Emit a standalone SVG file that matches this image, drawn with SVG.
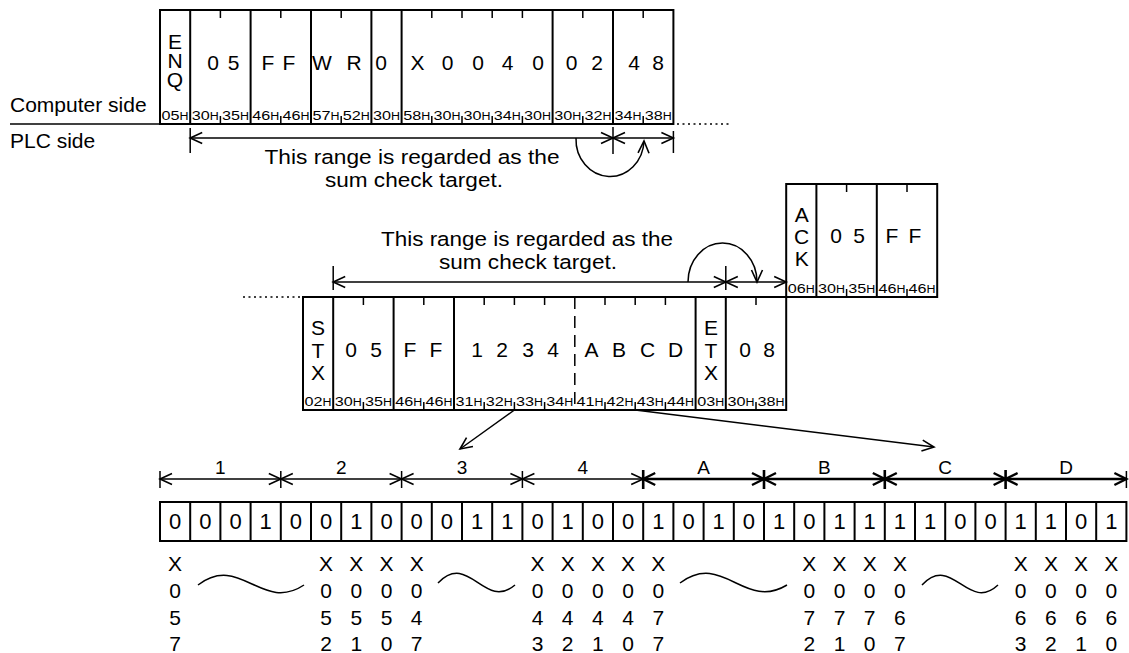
<svg xmlns="http://www.w3.org/2000/svg" width="1129" height="653" viewBox="0 0 1129 653">
<style>
.t{font-family:"Liberation Sans",Arial,sans-serif;fill:#000}
.ch{font-size:21px;text-anchor:middle}
.vt{font-size:21px;writing-mode:vertical-lr;text-orientation:upright;text-anchor:start}
.rg{font-size:20.5px;text-anchor:middle}
.sd{font-size:21px}
.hx{font-size:13px;text-anchor:middle}
.hx tspan{font-size:10px}
.bt{font-size:22px;text-anchor:middle}
.gl{font-size:19px;text-anchor:middle}
.dl{font-size:21px;text-anchor:middle}
.fr{fill:#fff;stroke:#000;stroke-width:2}
.dv{fill:none;stroke:#000;stroke-width:2}
.tk{fill:none;stroke:#000;stroke-width:1.5}
.ln{fill:none;stroke:#000;stroke-width:1.5}
.lb{fill:none;stroke:#000;stroke-width:2.6}
.dot{fill:none;stroke:#000;stroke-width:1.5;stroke-dasharray:2 3.5}
.dash{fill:none;stroke:#000;stroke-width:1.5;stroke-dasharray:12 7}
.arw{marker-start:url(#a);marker-end:url(#a)}
.arb{marker-start:url(#b);marker-end:url(#b)}
</style>
<defs>
<marker id="a" viewBox="-14 -8 16 16" refX="0" refY="0" markerWidth="16" markerHeight="16" markerUnits="userSpaceOnUse" orient="auto-start-reverse" overflow="visible"><path d="M-12,-5.5 L0,0 L-12,5.5" fill="none" stroke="#000" stroke-width="1.6"/></marker>
<marker id="b" viewBox="-14 -8 16 16" refX="0" refY="0" markerWidth="16" markerHeight="16" markerUnits="userSpaceOnUse" orient="auto-start-reverse" overflow="visible"><path d="M-12,-6 L0,0 L-12,6" fill="none" stroke="#000" stroke-width="2.4"/></marker>
</defs>
<rect width="1129" height="653" fill="#fff"/>

<g id="side-labels">
<path class="ln" d="M10,124H160"/>
<path class="dot" d="M677,124H731"/>
<text class="t sd" x="10" y="112">Computer side</text>
<text class="t sd" x="10" y="148">PLC side</text>
</g>

<g id="frame-computer">
<rect class="fr" x="160" y="10" width="513.4" height="114"/>
<path class="dv" d="M190.2,10V124M250.6,10V124M311,10V124M371.4,10V124M401.6,10V124M552.6,10V124M613,10V124"/>
<path class="tk" d="M220.4,10v8M280.8,10v8M341.2,10v8M431.8,10v8M462,10v8M492.2,10v8M522.4,10v8M582.8,10v8M643.2,10v8M220.4,124v-8M280.8,124v-8M341.2,124v-8M431.8,124v-8M462,124v-8M492.2,124v-8M522.4,124v-8M582.8,124v-8M643.2,124v-8"/>
<text class="t vt" x="175" y="30" letter-spacing="-4">ENQ</text>
<text class="t ch" y="70" x="213 233.5 268 289 322 354 381 417.5 447.5 478 507.5 538 571.5 597 634 658">05FFWR0X00400248</text>
<text class="t hx" x="175.1" y="120" textLength="27" lengthAdjust="spacingAndGlyphs">05<tspan>H</tspan></text>
<text class="t hx" x="205.3" y="120" textLength="27" lengthAdjust="spacingAndGlyphs">30<tspan>H</tspan></text>
<text class="t hx" x="235.5" y="120" textLength="27" lengthAdjust="spacingAndGlyphs">35<tspan>H</tspan></text>
<text class="t hx" x="265.7" y="120" textLength="27" lengthAdjust="spacingAndGlyphs">46<tspan>H</tspan></text>
<text class="t hx" x="295.9" y="120" textLength="27" lengthAdjust="spacingAndGlyphs">46<tspan>H</tspan></text>
<text class="t hx" x="326.1" y="120" textLength="27" lengthAdjust="spacingAndGlyphs">57<tspan>H</tspan></text>
<text class="t hx" x="356.3" y="120" textLength="27" lengthAdjust="spacingAndGlyphs">52<tspan>H</tspan></text>
<text class="t hx" x="386.5" y="120" textLength="27" lengthAdjust="spacingAndGlyphs">30<tspan>H</tspan></text>
<text class="t hx" x="416.7" y="120" textLength="27" lengthAdjust="spacingAndGlyphs">58<tspan>H</tspan></text>
<text class="t hx" x="446.9" y="120" textLength="27" lengthAdjust="spacingAndGlyphs">30<tspan>H</tspan></text>
<text class="t hx" x="477.1" y="120" textLength="27" lengthAdjust="spacingAndGlyphs">30<tspan>H</tspan></text>
<text class="t hx" x="507.3" y="120" textLength="27" lengthAdjust="spacingAndGlyphs">34<tspan>H</tspan></text>
<text class="t hx" x="537.5" y="120" textLength="27" lengthAdjust="spacingAndGlyphs">30<tspan>H</tspan></text>
<text class="t hx" x="567.7" y="120" textLength="27" lengthAdjust="spacingAndGlyphs">30<tspan>H</tspan></text>
<text class="t hx" x="597.9" y="120" textLength="27" lengthAdjust="spacingAndGlyphs">32<tspan>H</tspan></text>
<text class="t hx" x="628.1" y="120" textLength="27" lengthAdjust="spacingAndGlyphs">34<tspan>H</tspan></text>
<text class="t hx" x="658.3" y="120" textLength="27" lengthAdjust="spacingAndGlyphs">38<tspan>H</tspan></text>
</g>

<g id="frame-ack">
<rect class="fr" x="786.2" y="184" width="151" height="113"/>
<path class="dv" d="M816.4,184V297M876.8,184V297"/>
<path class="tk" d="M846.6,184v8M907,184v8M846.6,297v-8M907,297v-8"/>
<text class="t vt" x="801.7" y="203" letter-spacing="-1">ACK</text>
<text class="t ch" y="243" x="836 859 892 915">05FF</text>
<text class="t hx" x="801.3" y="293" textLength="27" lengthAdjust="spacingAndGlyphs">06<tspan>H</tspan></text>
<text class="t hx" x="831.5" y="293" textLength="27" lengthAdjust="spacingAndGlyphs">30<tspan>H</tspan></text>
<text class="t hx" x="861.7" y="293" textLength="27" lengthAdjust="spacingAndGlyphs">35<tspan>H</tspan></text>
<text class="t hx" x="891.9" y="293" textLength="27" lengthAdjust="spacingAndGlyphs">46<tspan>H</tspan></text>
<text class="t hx" x="922.1" y="293" textLength="27" lengthAdjust="spacingAndGlyphs">46<tspan>H</tspan></text>
</g>

<g id="frame-plc">
<path class="dot" d="M243,297H302"/>
<rect class="fr" x="303" y="297" width="483.2" height="113"/>
<path class="dv" d="M333.2,297V410M393.6,297V410M454,297V410M695.6,297V410M725.8,297V410"/>
<path class="dash" d="M574.8,297V410"/>
<path class="tk" d="M363.4,297v8M423.8,297v8M484.2,297v8M514.4,297v8M544.6,297v8M605,297v8M635.2,297v8M665.4,297v8M756,297v8M363.4,410v-8M423.8,410v-8M484.2,410v-8M514.4,410v-8M544.6,410v-8M605,410v-8M635.2,410v-8M665.4,410v-8M756,410v-8"/>
<text class="t vt" x="318" y="316" letter-spacing="-0.5">STX</text>
<text class="t vt" x="711" y="316" letter-spacing="-0.5">ETX</text>
<text class="t ch" y="357" x="351 376 410 436 477 502 528 553 591.5 619 647.5 675.5 745 769">05FF1234ABCD08</text>
<text class="t hx" x="318.1" y="406" textLength="27" lengthAdjust="spacingAndGlyphs">02<tspan>H</tspan></text>
<text class="t hx" x="348.3" y="406" textLength="27" lengthAdjust="spacingAndGlyphs">30<tspan>H</tspan></text>
<text class="t hx" x="378.5" y="406" textLength="27" lengthAdjust="spacingAndGlyphs">35<tspan>H</tspan></text>
<text class="t hx" x="408.7" y="406" textLength="27" lengthAdjust="spacingAndGlyphs">46<tspan>H</tspan></text>
<text class="t hx" x="438.9" y="406" textLength="27" lengthAdjust="spacingAndGlyphs">46<tspan>H</tspan></text>
<text class="t hx" x="469.1" y="406" textLength="27" lengthAdjust="spacingAndGlyphs">31<tspan>H</tspan></text>
<text class="t hx" x="499.3" y="406" textLength="27" lengthAdjust="spacingAndGlyphs">32<tspan>H</tspan></text>
<text class="t hx" x="529.5" y="406" textLength="27" lengthAdjust="spacingAndGlyphs">33<tspan>H</tspan></text>
<text class="t hx" x="559.7" y="406" textLength="27" lengthAdjust="spacingAndGlyphs">34<tspan>H</tspan></text>
<text class="t hx" x="589.9" y="406" textLength="27" lengthAdjust="spacingAndGlyphs">41<tspan>H</tspan></text>
<text class="t hx" x="620.1" y="406" textLength="27" lengthAdjust="spacingAndGlyphs">42<tspan>H</tspan></text>
<text class="t hx" x="650.3" y="406" textLength="27" lengthAdjust="spacingAndGlyphs">43<tspan>H</tspan></text>
<text class="t hx" x="680.5" y="406" textLength="27" lengthAdjust="spacingAndGlyphs">44<tspan>H</tspan></text>
<text class="t hx" x="710.7" y="406" textLength="27" lengthAdjust="spacingAndGlyphs">03<tspan>H</tspan></text>
<text class="t hx" x="740.9" y="406" textLength="27" lengthAdjust="spacingAndGlyphs">30<tspan>H</tspan></text>
<text class="t hx" x="771.1" y="406" textLength="27" lengthAdjust="spacingAndGlyphs">38<tspan>H</tspan></text>
</g>

<g id="bits">
<rect class="fr" x="160" y="502" width="966.4" height="39"/>
<path class="dv" d="M190.2,502V541M220.4,502V541M250.6,502V541M280.8,502V541M311,502V541M341.2,502V541M371.4,502V541M401.6,502V541M431.8,502V541M462,502V541M492.2,502V541M522.4,502V541M552.6,502V541M582.8,502V541M613,502V541M643.2,502V541M673.4,502V541M703.6,502V541M733.8,502V541M764,502V541M794.2,502V541M824.4,502V541M854.6,502V541M884.8,502V541M915,502V541M945.2,502V541M975.4,502V541M1005.6,502V541M1035.8,502V541M1066,502V541M1096.2,502V541"/>
<text class="t bt" y="529" x="175.1 205.3 235.5 265.7 295.9 326.1 356.3 386.5 416.7 446.9 477.1 507.3 537.5 567.7 597.9 628.1 658.3 688.5 718.7 748.9 779.1 809.3 839.5 869.7 899.9 930.1 960.3 990.5 1020.7 1050.9 1081.1 1111.3">00010010001101001010101111001101</text>
<text class="t gl" y="474" x="220.4 341.2 462 582.8 703.6 824.4 945.2 1066">1234ABCD</text>
</g>

<g id="device-labels">
<text class="t dl" y="571" x="175.1 326.1 356.3 386.5 416.7 537.5 567.7 597.9 628.1 658.3 809.3 839.5 869.7 899.9 1020.7 1050.9 1081.1 1111.3">XXXXXXXXXXXXXXXXXX</text>
<text class="t dl" y="598" x="175.1 326.1 356.3 386.5 416.7 537.5 567.7 597.9 628.1 658.3 809.3 839.5 869.7 899.9 1020.7 1050.9 1081.1 1111.3">000000000000000000</text>
<text class="t dl" y="625" x="175.1 326.1 356.3 386.5 416.7 537.5 567.7 597.9 628.1 658.3 809.3 839.5 869.7 899.9 1020.7 1050.9 1081.1 1111.3">555544444777766666</text>
<text class="t dl" y="651" x="175.1 326.1 356.3 386.5 416.7 537.5 567.7 597.9 628.1 658.3 809.3 839.5 869.7 899.9 1020.7 1050.9 1081.1 1111.3">721073210721073210</text>
<path class="ln" d="M198,585C240,553 262,613 304,585M438,583C469,551 484,611 515,585M680,583C723,551 744,611 787,585M922,585C952,553 968,613 998,585"/>
</g>

<g id="range-texts">
<text class="t rg" x="412" y="164" textLength="295" lengthAdjust="spacingAndGlyphs">This range is regarded as the</text>
<text class="t rg" x="414" y="187" textLength="178" lengthAdjust="spacingAndGlyphs">sum check target.</text>
<text class="t rg" x="527" y="246" textLength="292" lengthAdjust="spacingAndGlyphs">This range is regarded as the</text>
<text class="t rg" x="528" y="269" textLength="178" lengthAdjust="spacingAndGlyphs">sum check target.</text>
</g>

<g id="connectors">
<path class="tk" d="M190.2,128V153M613,127V154M673.4,131V153"/>
<path class="ln arw" d="M190.2,138H613"/>
<path class="ln arw" d="M613,138H673.4"/>
<path class="ln" marker-end="url(#a)" d="M576,138A34,37 0 0 0 644,141"/>
<path class="tk" d="M333.2,266V290M725.8,266V290"/>
<path class="ln arw" d="M333.2,282H725.8"/>
<path class="ln arw" d="M725.8,282H786.2"/>
<path class="ln" marker-end="url(#a)" d="M688,282A34.5,39 0 0 1 757,282"/>
<path class="ln" marker-end="url(#a)" d="M514.4,410L460,449"/>
<path class="ln" marker-end="url(#a)" d="M635.2,410L934,447"/>
<path class="tk" d="M160,471V488M280.8,471V488M401.6,471V488M522.4,471V488M1126.4,471V488"/>
<path class="lb" d="M643.2,470V489M764,470V489M884.8,470V489M1005.6,470V489"/>
<path class="ln arw" d="M160,479H280.8"/>
<path class="ln arw" d="M280.8,479H401.6"/>
<path class="ln arw" d="M401.6,479H522.4"/>
<path class="ln arw" d="M522.4,479H643.2"/>
<path class="lb arb" d="M643.2,479H764"/>
<path class="lb arb" d="M764,479H884.8"/>
<path class="lb arb" d="M884.8,479H1005.6"/>
<path class="lb arb" d="M1005.6,479H1126.4"/>
</g>
</svg>
